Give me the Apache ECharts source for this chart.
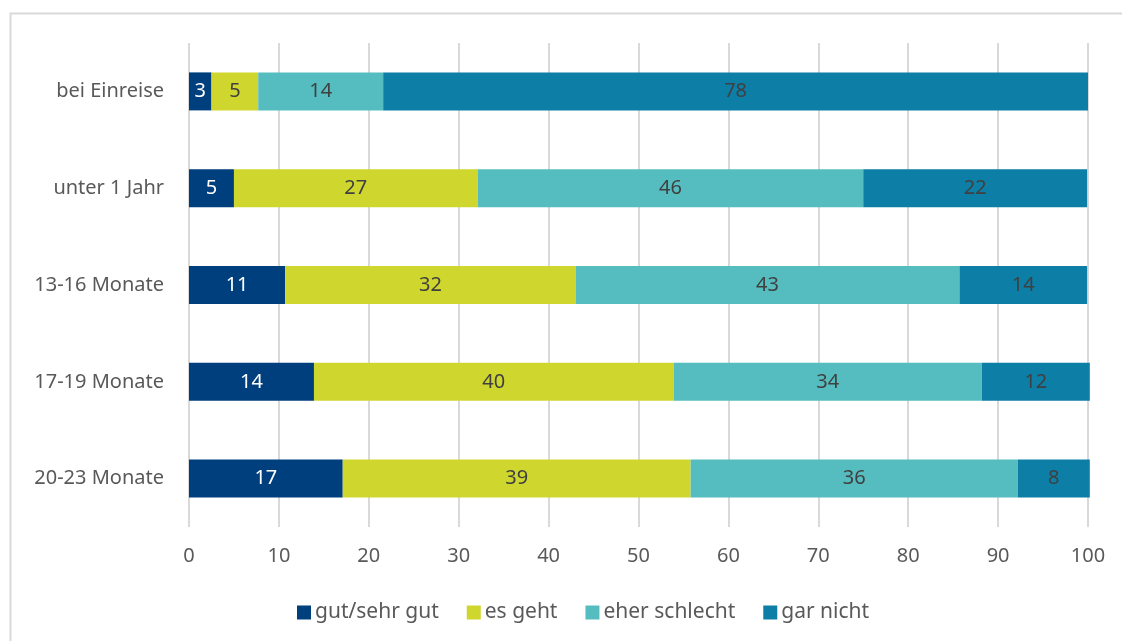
<!DOCTYPE html>
<html>
<head>
<meta charset="utf-8">
<script src="https://cdn.jsdelivr.net/npm/echarts@6/dist/echarts.min.js"></script>
<style>
  html, body { margin: 0; padding: 0; background: #fff; }
  #chart { width: 1122px; height: 641px; }
</style>
</head>
<body>
<div id="chart"></div>
<script>
const categories = ['bei Einreise', 'unter 1 Jahr', '13-16 Monate', '17-19 Monate', '20-23 Monate']
const seriesNames = ['gut/sehr gut', 'es geht', 'eher schlecht', 'gar nicht']

// bar lengths as drawn
const gutSehrGut = [2.5, 5.0, 10.7, 13.9, 17.1]
const esGeht = [5.2, 27.1, 32.3, 40.0, 38.7]
const eherSchlecht = [13.9, 42.9, 42.7, 34.3, 36.4]
const garNicht = [78.4, 24.9, 14.2, 12.0, 8.0]

// numbers printed on the bars
const gutLabels = [3, 5, 11, 14, 17]
const esGehtLabels = [5, 27, 32, 40, 39]
const eherLabels = [14, 46, 43, 34, 36]
const garLabels = [78, 22, 14, 12, 8]

const xTicks = [0, 10, 20, 30, 40, 50, 60, 70, 80, 90, 100]

const colors = ['#003f7d', '#cfd72e', '#55bdbf', '#0d7ea6']
const labelColors = ['#ffffff', '#404040', '#404040', '#404040']
const fontFamily = '"Noto Sans", "Open Sans", sans-serif'

const chart = echarts.init(document.getElementById('chart'), null, { renderer: 'canvas' })

function makeSeries(i, values, labels) {
  return {
    name: seriesNames[i],
    type: 'bar',
    stack: 'total',
    barWidth: 38,
    clip: false,
    data: values,
    itemStyle: { color: colors[i] },
    label: {
      show: true,
      position: 'inside',
      color: labelColors[i],
      fontSize: 20,
      fontFamily: fontFamily,
      formatter: p => String(labels[p.dataIndex])
    }
  }
}

const option = {
  animation: false,
  backgroundColor: '#ffffff',
  textStyle: { fontFamily: fontFamily },
  graphic: [{
    type: 'rect',
    shape: { x: 10.5, y: 13.5, width: 1125, height: 640 },
    style: { fill: 'none', stroke: '#d9d9d9', lineWidth: 2 },
    silent: true
  }],
  grid: {
    left: 189,
    right: 34,
    top: 43,
    bottom: 114
  },
  legend: {
    top: 597,
    left: 292,
    itemWidth: 14,
    itemHeight: 14,
    itemGap: 28,
    icon: 'rect',
    textStyle: { color: '#595959', fontSize: 21, fontFamily: fontFamily, padding: [0, 0, 0, -1] },
    data: seriesNames
  },
  xAxis: {
    type: 'value',
    min: xTicks[0],
    max: xTicks[xTicks.length - 1],
    interval: 10,
    axisLine: { show: false },
    axisTick: { show: false },
    axisLabel: { color: '#595959', fontSize: 20, margin: 19, fontFamily: fontFamily },
    splitLine: { lineStyle: { color: '#d9d9d9', width: 2 } }
  },
  yAxis: {
    type: 'category',
    inverse: true,
    data: categories,
    axisLine: { show: false },
    axisTick: { show: false },
    axisLabel: { color: '#595959', fontSize: 20, margin: 25, fontFamily: fontFamily }
  },
  series: [
    makeSeries(0, gutSehrGut, gutLabels),
    makeSeries(1, esGeht, esGehtLabels),
    makeSeries(2, eherSchlecht, eherLabels),
    makeSeries(3, garNicht, garLabels)
  ]
}

chart.setOption(option)
window.addEventListener('resize', () => chart.resize())
</script>
</body>
</html>
